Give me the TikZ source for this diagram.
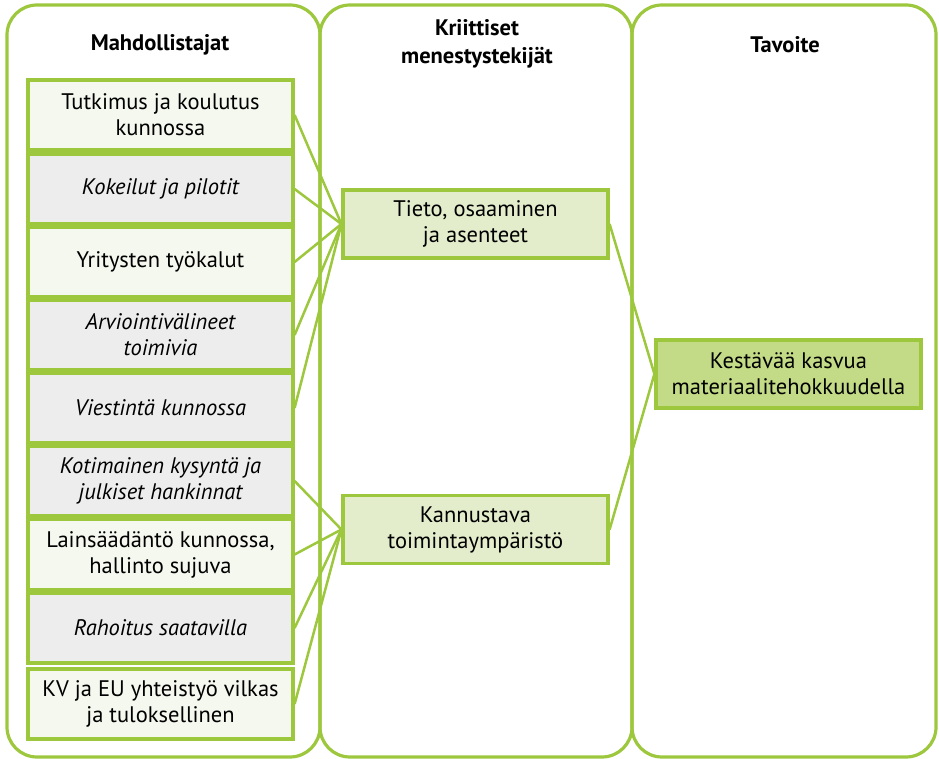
\documentclass[tikz,border=0pt]{standalone}
\usepackage{fontspec}
\setmainfont{PT Sans}
\begin{document}
\begin{tikzpicture}[x=1pt,y=-1pt,
  col/.style={draw=grn, line width=3.2pt, rounded corners=30pt},
  lbox/.style={draw=grn, line width=3.2pt, fill=lfill, minimum width=265pt, minimum height=70pt, align=center, font=\fontsize{22.5}{26}\selectfont, inner sep=2pt},
  ibox/.style={lbox, fill=gfill, font=\fontsize{22.5}{26}\selectfont\itshape},
  mbox/.style={draw=grn, line width=3.2pt, fill=mfill, minimum width=265pt, minimum height=68pt, align=center, font=\fontsize{22.5}{26}\selectfont, inner sep=2pt},
  rbox/.style={mbox, fill=rfill},
  hd/.style={align=center, font=\fontsize{22.5}{28}\selectfont\bfseries},
  conn/.style={draw=grn, line width=2.5pt}
]
\definecolor{grn}{HTML}{9DC73D}
\definecolor{lfill}{HTML}{F5F8EE}
\definecolor{gfill}{HTML}{EDEDED}
\definecolor{mfill}{HTML}{E3EDCB}
\definecolor{rfill}{HTML}{C3DA86}
\useasboundingbox (0,0) rectangle (939,759);
\draw[col] (7,5) rectangle (320,757);
\draw[col] (320,5) rectangle (632,757);
\draw[col] (632,5) rectangle (936,757);
\node[hd] (h1) at (160,45) {Mahdollistajat};
\node[hd] (h2) at (477,44) {Kriittiset\\menestystekijät};
\node[hd] (h3) at (785,45) {Tavoite};
\node[lbox] (b1) at (160.5,115) {Tutkimus ja koulutus\\kunnossa};
\node[ibox] (b2) at (160.5,189) {Kokeilut ja pilotit};
\node[lbox] (b3) at (160.5,262) {Yritysten työkalut};
\node[ibox] (b4) at (160.5,335) {Arviointivälineet\\toimivia};
\node[ibox] (b5) at (160.5,408) {Viestintä kunnossa};
\node[ibox] (b6) at (160.5,481) {Kotimainen kysyntä ja\\julkiset hankinnat};
\node[lbox] (b7) at (160.5,554.5) {Lainsäädäntö kunnossa,\\hallinto sujuva};
\node[ibox] (b8) at (160.5,628) {Rahoitus saatavilla};
\node[lbox] (b9) at (160.5,704) {KV ja EU yhteistyö vilkas\\ja tuloksellinen};
\node[mbox] (m1) at (475.5,224) {Tieto, osaaminen\\ja asenteet};
\node[mbox] (m2) at (475.5,529.5) {Kannustava\\toimintaympäristö};
\node[rbox] (r) at (788.5,374) {Kestävää kasvua\\materiaalitehokkuudella};
\foreach \b in {b1,b2,b3,b4,b5} \draw[conn] (\b.east) -- (m1.west);
\foreach \b in {b6,b7,b8,b9} \draw[conn] (\b.east) -- (m2.west);
\draw[conn] (m1.east) -- (r.west);
\draw[conn] (m2.east) -- (r.west);
\end{tikzpicture}
\end{document}
